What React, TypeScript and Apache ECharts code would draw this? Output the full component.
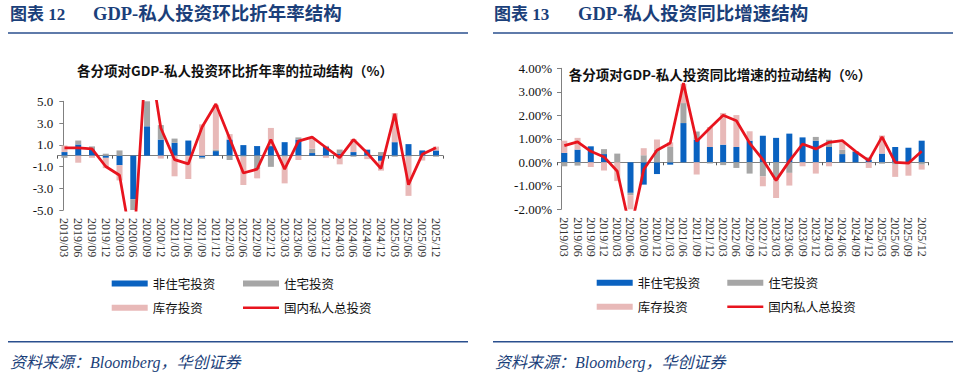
import React, { useEffect, useRef } from "react";
import * as echarts from "echarts";

const categories = [
  "2019/03", "2019/06", "2019/09", "2019/12",
  "2020/03", "2020/06", "2020/09", "2020/12",
  "2021/03", "2021/06", "2021/09", "2021/12",
  "2022/03", "2022/06", "2022/09", "2022/12",
  "2023/03", "2023/06", "2023/09", "2023/12",
  "2024/03", "2024/06", "2024/09", "2024/12",
  "2025/03", "2025/06", "2025/09", "2025/12",
];

const seriesNames = ["非住宅投资", "住宅投资", "库存投资", "国内私人总投资"];

// 图表12：环比折年率拉动（%）
const nonResQoq = [0.33, 1.03, 0.58, -0.2, -0.88, -4.0, 2.7, 1.48, 1.18, 1.39, -0.18, 0.42, 1.48, 0.97, 0.88, 0.88, 1.24, 1.48, 0.24, 0.82, 0.2, 0.33, 0.55, -0.48, 1.24, 1.06, 0.48, 0.48];
const resQoq = [-0.2, 0.36, 0.27, 0.18, 0.48, -1.3, 2.6, 1.33, 0.39, -0.05, -0.1, 0.15, -0.4, -0.1, -1.24, -1.03, -0.1, 0.2, 0.4, 0.08, 0.36, -0.1, -0.05, 0.33, -0.1, -0.1, -0.05, -0.1];
const invQoq = [0.6, -0.65, -0.2, -0.95, -1.4, -3.7, 5.3, -0.27, -1.9, -2.1, 2.88, 4.1, 0.5, -2.6, -0.85, 1.67, -2.45, -0.4, 1.0, -0.2, -0.8, 1.2, -0.27, -0.9, 2.67, -3.6, -0.4, 0.35];
const totalQoq = [0.72, 0.72, 0.63, -1.0, -1.8, -9.0, 10.6, 2.54, -0.37, -0.76, 2.63, 4.75, 1.6, -1.6, -1.24, 1.48, -1.24, 1.33, 1.7, 0.75, -0.18, 1.48, 0.24, -1.18, 3.85, -2.67, 0.12, 0.73];

// 图表13：同比增速拉动（%）
const nonResYoy = [0.4, 0.54, 0.68, 0.35, 0.0, -1.3, -0.95, -0.5, -0.1, 1.67, 0.96, 0.65, 0.75, 0.65, 0.92, 1.13, 1.04, 1.22, 1.06, 0.92, 0.65, 0.35, 0.45, 0.11, 0.37, 0.65, 0.62, 0.92];
const resYoy = [-0.17, -0.14, 0.0, 0.21, 0.37, -0.1, 0.3, 0.54, 0.65, 0.85, 0.35, -0.05, -0.12, -0.24, -0.48, -0.6, -0.77, -0.45, 0.0, 0.16, 0.31, 0.18, 0.03, 0.1, -0.06, -0.1, -0.05, -0.1];
const invYoy = [0.52, 0.5, -0.2, -0.35, -0.8, -1.5, 0.3, 0.43, 0.2, 0.82, -0.52, 0.85, 1.35, 1.36, 0.4, -0.42, -0.75, -0.54, -0.17, -0.48, -0.17, 0.31, 0.0, -0.24, 0.77, -0.52, -0.52, -0.21];
const totalYoy = [0.71, 0.87, 0.47, 0.23, -0.38, -2.9, -0.31, 0.51, 0.82, 3.37, 0.89, 1.46, 2.0, 1.77, 0.82, 0.11, -0.77, 0.05, 0.78, 0.57, 0.85, 0.92, 0.47, 0.07, 1.08, 0.0, -0.04, 0.47];

const leftTicks = [-5, -3, -1, 1, 3, 5];
const rightTicks = [-2, -1, 0, 1, 2, 3, 4];

const BLUE = "#0A62C0";
const GRAY = "#A6A6A6";
const PINK = "#E8B9B8";
const RED = "#E8141E";
const NAVY = "#1B3F7A";
const AXIS = "#808080";

const SERIF = "'Liberation Serif', 'Noto Sans CJK SC', serif";
const CJK = "'Noto Sans CJK SC', sans-serif";

function buildOption() {
  const labelAxis = (grid: number) => ({
    type: "category",
    gridIndex: grid,
    data: categories,
    position: "bottom",
    axisLine: { show: false, onZero: false },
    axisTick: { show: false },
    axisLabel: {
      rotate: -90,
      interval: 0,
      margin: 8,
      fontSize: 12,
      fontFamily: SERIF,
      color: "#333",
    },
    splitLine: { show: false },
  });
  const zeroAxis = (grid: number) => ({
    type: "category",
    gridIndex: grid,
    data: categories,
    position: "bottom",
    axisLine: { show: true, onZero: true, lineStyle: { color: AXIS, width: 1 } },
    axisTick: { show: true, length: 3, lineStyle: { color: "#555" } },
    axisLabel: { show: false },
    splitLine: { show: false },
  });

  const bars = (grid: number, stack: string, data: number[][]) =>
    [BLUE, GRAY, PINK].map((c, i) => ({
      name: seriesNames[i],
      type: "bar",
      xAxisIndex: grid * 2,
      yAxisIndex: grid,
      stack,
      barWidth: 6,
      data: data[i],
      itemStyle: { color: c },
      z: 2,
    }));
  const line = (grid: number, data: number[]) => ({
    name: seriesNames[3],
    type: "line",
    xAxisIndex: grid * 2,
    yAxisIndex: grid,
    data,
    color: RED,
    symbol: "none",
    showSymbol: false,
    lineStyle: { color: RED, width: 2.75 },
    clip: true,
    z: 5,
  });

  const legendItem = (name: string, left: number, centerY: number, isLine = false) => ({
    show: true,
    selectedMode: false,
    left,
    top: centerY - 8,
    padding: 0,
    itemGap: 0,
    itemWidth: 36,
    itemHeight: isLine ? 2.5 : 6,
    icon: "rect",
    data: [{ name, icon: "rect" }],
    textStyle: { fontSize: 12.5, fontFamily: CJK, color: "#111", lineHeight: 16 },
  });

  const text = (t: string, x: number, y: number, style: any) => ({
    type: "text",
    x,
    y,
    style: { text: t, verticalAlign: "middle", ...style },
  });
  const hline = (x1: number, x2: number, y: number) => ({
    type: "line",
    shape: { x1, y1: y, x2, y2: y },
    style: { stroke: "#2A4F8E", lineWidth: 1.5 },
  });

  const titleStyle = { fontSize: 17, fontWeight: "bold", fontFamily: SERIF, fill: NAVY };
  const titleStyle2 = { ...titleStyle, fontSize: 18.5 };
  const innerStyle = { fontSize: 13.5, fontWeight: "bold", fontFamily: CJK, fill: "#111", align: "center" };
  const sourceStyle = { fontSize: 16, fontStyle: "italic", fontFamily: SERIF, fill: NAVY };

  return {
    animation: false,
    backgroundColor: "#fff",
    textStyle: { fontFamily: SERIF },
    grid: [
      { left: 57.6, top: 101.3, width: 385.3, height: 108.7, outerBoundsMode: "none" },
      { left: 557.7, top: 68.3, width: 370.6, height: 141, outerBoundsMode: "none" },
    ],
    xAxis: [labelAxis(0), zeroAxis(0), labelAxis(1), zeroAxis(1)],
    yAxis: [
      {
        type: "value",
        gridIndex: 0,
        min: -5,
        max: 5,
        offset: -5.7,
        axisLine: { show: true, lineStyle: { color: AXIS } },
        axisTick: { show: true, length: 4, customValues: leftTicks, lineStyle: { color: AXIS } },
        axisLabel: {
          customValues: leftTicks,
          formatter: (v: number) => v.toFixed(1),
          fontSize: 13,
          fontFamily: SERIF,
          color: "#111",
          margin: 10,
        },
        splitLine: { show: false },
      },
      {
        type: "value",
        gridIndex: 1,
        min: -2,
        max: 4,
        interval: 1,
        offset: -3.3,
        axisLine: { show: true, lineStyle: { color: AXIS } },
        axisTick: { show: true, length: 4, customValues: rightTicks, lineStyle: { color: AXIS } },
        axisLabel: {
          customValues: rightTicks,
          formatter: (v: number) => v.toFixed(2) + "%",
          fontSize: 13,
          fontFamily: SERIF,
          color: "#111",
          margin: 9,
        },
        splitLine: { show: false },
      },
    ],
    legend: [
      legendItem(seriesNames[0], 111.7, 283.5),
      legendItem(seriesNames[1], 243, 283.5),
      legendItem(seriesNames[2], 111.7, 307.7),
      legendItem(seriesNames[3], 243, 307.7, true),
      legendItem(seriesNames[0], 596.7, 282.7),
      legendItem(seriesNames[1], 727.3, 282.7),
      legendItem(seriesNames[2], 596.7, 306.7),
      legendItem(seriesNames[3], 727.3, 306.7, true),
    ],
    series: [
      ...bars(0, "qoq", [nonResQoq, resQoq, invQoq]),
      line(0, totalQoq),
      ...bars(1, "yoy", [nonResYoy, resYoy, invYoy]),
      line(1, totalYoy),
    ],
    graphic: [
      text("图表 12", 10, 14, titleStyle),
      text("GDP-私人投资环比折年率结构", 93, 14, titleStyle2),
      text("图表 13", 494, 14, titleStyle),
      text("GDP-私人投资同比增速结构", 578, 14, titleStyle2),
      hline(8, 468, 33),
      hline(493, 953, 33),
      text("各分项对GDP-私人投资环比折年率的拉动结构（%）", 235, 70, innerStyle),
      text("各分项对GDP-私人投资同比增速的拉动结构（%）", 720, 74, innerStyle),
      hline(8, 468, 341.7),
      hline(493, 953, 341.7),
      text("资料来源：Bloomberg，华创证券", 10, 362, sourceStyle),
      text("资料来源：Bloomberg，华创证券", 495, 362, sourceStyle),
    ],
  };
}

export default function App() {
  const ref = useRef<HTMLDivElement>(null);
  useEffect(() => {
    if (!ref.current) return;
    const chart = echarts.init(ref.current, null, { renderer: "svg" });
    chart.setOption(buildOption() as any);
    return () => chart.dispose();
  }, []);
  return (
    <div
      ref={ref}
      style={{ position: "fixed", left: 0, top: 0, width: 960, height: 378, background: "#fff" }}
    />
  );
}
